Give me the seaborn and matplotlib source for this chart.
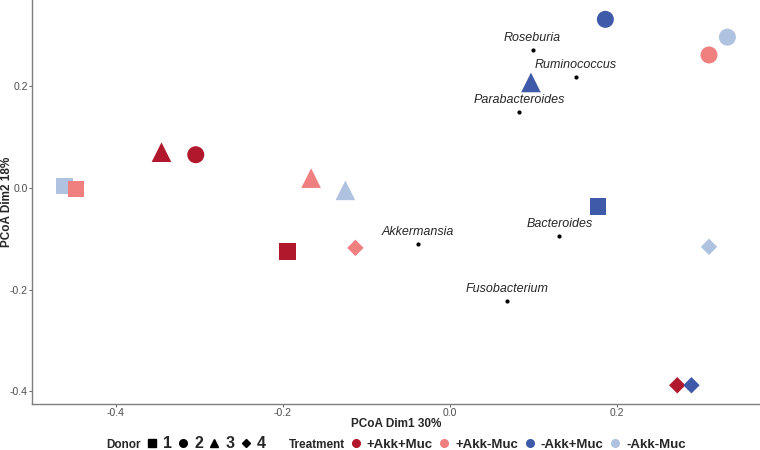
import matplotlib
matplotlib.use("Agg")
import matplotlib.pyplot as plt
from matplotlib.lines import Line2D
import seaborn as sns
import pandas as pd

# sample ordination scores
donor = ["1", "1", "1", "1", "2", "2", "2", "2", "3", "3", "3", "3", "4", "4", "4", "4"]
treatment = ["-Akk-Muc", "+Akk-Muc", "+Akk+Muc", "-Akk+Muc",
             "+Akk+Muc", "-Akk+Muc", "+Akk-Muc", "-Akk-Muc",
             "+Akk+Muc", "+Akk-Muc", "-Akk-Muc", "-Akk+Muc",
             "+Akk-Muc", "-Akk-Muc", "+Akk+Muc", "-Akk+Muc"]
dim1 = [-0.461, -0.447, -0.194, 0.177,
        -0.304, 0.186, 0.310, 0.332,
        -0.345, -0.166, -0.125, 0.097,
        -0.113, 0.310, 0.272, 0.289]
dim2 = [0.004, -0.002, -0.125, -0.037,
        0.065, 0.331, 0.261, 0.296,
        0.070, 0.019, -0.005, 0.207,
        -0.118, -0.116, -0.388, -0.388]

# taxa projected onto the ordination
taxa = ["Roseburia", "Ruminococcus", "Parabacteroides", "Akkermansia", "Bacteroides", "Fusobacterium"]
taxa_x = [0.099, 0.151, 0.083, -0.038, 0.131, 0.068]
taxa_y = [0.271, 0.218, 0.149, -0.110, -0.094, -0.222]

treat_order = ["+Akk+Muc", "+Akk-Muc", "-Akk+Muc", "-Akk-Muc"]
palette = {"+Akk+Muc": "#B2182B", "+Akk-Muc": "#F08080",
           "-Akk+Muc": "#3F5AA8", "-Akk-Muc": "#AFC3E0"}
markers = {"1": "s", "2": "o", "3": "^", "4": "D"}
sizes = {"1": 140, "2": 150, "3": 200, "4": 70}

df = pd.DataFrame({"Dim1": dim1, "Dim2": dim2, "Donor": donor, "Treatment": treatment})

sns.set_theme(style="white")
plt.rcParams["font.family"] = ["Liberation Sans", "DejaVu Sans"]

fig = plt.figure(figsize=(7.6, 4.5), dpi=100)
ax = fig.add_axes([0.042, 0.102, 0.958, 0.898])

for d in ["1", "2", "3", "4"]:
    sub = df[df["Donor"] == d]
    sns.scatterplot(data=sub, x="Dim1", y="Dim2", hue="Treatment", palette=palette,
                    marker=markers[d], s=sizes[d], linewidth=0, legend=False, ax=ax)

ax.scatter(taxa_x, taxa_y, s=4, color="black", zorder=3)
for name, tx, ty in zip(taxa, taxa_x, taxa_y):
    ax.annotate(name, (tx, ty), xytext=(0, 4), textcoords="offset points",
                ha="center", va="bottom", fontsize=9, fontstyle="italic")

ax.set_xlim(-0.5, 0.371)
ax.set_ylim(-0.425, 0.369)
ax.set_xticks([-0.4, -0.2, 0.0, 0.2])
ax.set_yticks([-0.4, -0.2, 0.0, 0.2])
ax.set_xticklabels(["-0.4", "-0.2", "0.0", "0.2"])
ax.set_yticklabels(["-0.4", "-0.2", "0.0", "0.2"])
ax.tick_params(axis="both", colors="#4D4D4D", labelsize=7.5, length=2, width=0.6,
               pad=1, bottom=True, left=True)
for side in ["top", "right"]:
    ax.spines[side].set_visible(False)
for side in ["left", "bottom"]:
    ax.spines[side].set_color("#7F7F7F")
    ax.spines[side].set_linewidth(1.0)
ax.set_xlabel("PCoA Dim1 30%", fontsize=8.5, fontweight="bold")
ax.set_ylabel("PCoA Dim2 18%", fontsize=8.5, fontweight="bold")
ax.xaxis.set_label_coords(0.5, -0.035)
ax.yaxis.set_label_coords(-0.026, 0.5)

# bottom legend: donor shapes then treatment colours
blank = Line2D([], [], linestyle="none")
handles = [blank]
labels = ["Donor"]
for d in ["1", "2", "3", "4"]:
    handles.append(Line2D([], [], marker=markers[d], color="black", linestyle="none",
                          markersize=5.5 if d != "4" else 4))
    labels.append(d)
handles.append(blank)
labels.append("Treatment")
for t in treat_order:
    handles.append(Line2D([], [], marker="o", color=palette[t], linestyle="none", markersize=5.5))
    labels.append(t)

leg = fig.legend(handles, labels, loc="center", bbox_to_anchor=(0.51, 0.015), ncol=len(labels),
                 frameon=False, handlelength=0.8, handletextpad=0.45, columnspacing=0.45,
                 fontsize=9.5, borderpad=0)
for txt in leg.get_texts():
    txt.set_fontweight("bold")
    if txt.get_text() in ["1", "2", "3", "4"]:
        txt.set_fontsize(11.5)
    elif txt.get_text() in ["Donor", "Treatment"]:
        txt.set_fontsize(8.5)

fig.savefig("out.png", dpi=100)
